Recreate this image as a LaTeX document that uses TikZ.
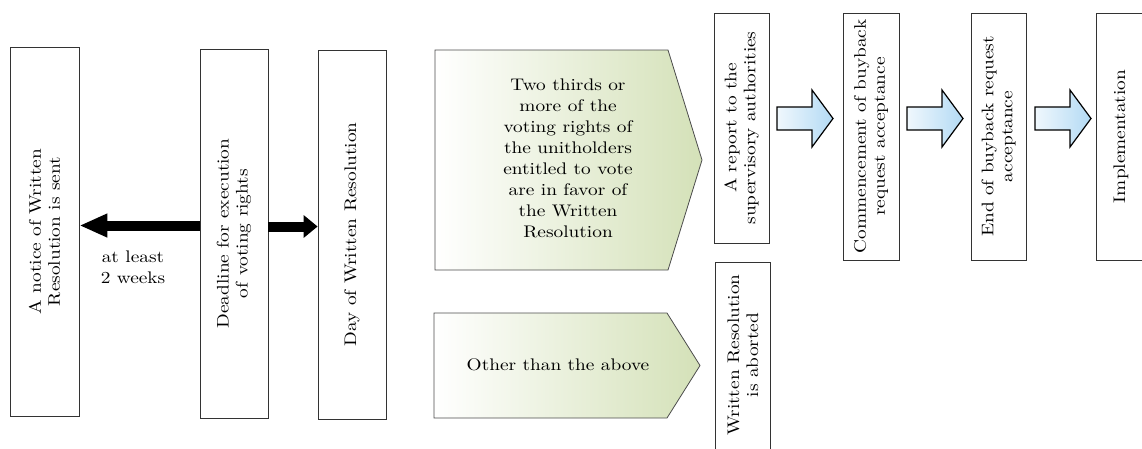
\documentclass[tikz,border=0pt]{standalone}
\usepackage{fontspec}
\setmainfont{lmroman10-regular.otf}[FakeStretch=1.15]
\usetikzlibrary{arrows.meta}

\definecolor{sage}{HTML}{D4E1B8}
\definecolor{paleblue}{HTML}{B3DAF4}

\begin{document}
\begin{tikzpicture}[x=1pt, y=-1pt]
    \tikzstyle{every node}=[font=\fontsize{16.8pt}{19pt}\selectfont, align=center]
    \tikzstyle{stepbox}=[draw=black!80, line width=0.8pt, rotate=90, inner sep=0pt]
    \tikzstyle{bigarrow}=[line width=10pt, -{Triangle[length=28pt, width=22pt]}]
    \tikzstyle{choice}=[draw=black!70, line width=0.8pt, left color=white, right color=sage]
    \tikzstyle{flowarrow}=[draw=black, line width=1.2pt, left color=paleblue!20, right color=paleblue]

    \useasboundingbox (0,0) rectangle (1142,448);

    % schedule of the written resolution
    \node[stepbox, minimum width=369, minimum height=69] (notice) at (44.5,231.5) {A notice of Written\\Resolution is sent};
    \node[stepbox, minimum width=369, minimum height=68] (dl)     at (234,233.5)   {Deadline for execution\\of voting rights};
    \node[stepbox, minimum width=369, minimum height=68] (day)    at (352,234.5)   {Day of Written Resolution};

    \coordinate (dlw) at ([yshift=8pt]dl.north);
    \coordinate (dle) at ([yshift=7pt]dl.south);
    \draw[bigarrow] (dlw) -- (dlw -| notice.south);
    \draw[bigarrow, -{Triangle[length=14pt, width=22pt]}] (dle) -- (dle -| day.north);
    \node[font=\fontsize{16.8pt}{21pt}\selectfont] (gap) at (133,267) {at least\\2 weeks};

    % outcome of the vote
    \path[choice] (435,50) -- (668,50) -- (702,160) -- (668,270) -- (435,270) -- cycle;
    \node[font=\fontsize{16.8pt}{21pt}\selectfont] (yes) at (568,158) {Two thirds or\\more of the\\voting rights of\\the unitholders\\entitled to vote\\are in favor of\\the Written\\Resolution};
    \path[choice] (434,313) -- (667,313) -- (700,365.5) -- (667,418) -- (434,418) -- cycle;
    \node (no) at (558,365) {Other than the above};

    % buyback steps
    \node[stepbox, minimum width=230, minimum height=55] (report) at (741.5,128) {A report to the\\supervisory authorities};
    \node[stepbox, minimum width=210, minimum height=55] (abort)  at (742.5,367) {};
    \node[rotate=90] (abortlbl) at (743,355) {Written Resolution\\is aborted};
    \node[stepbox, minimum width=247, minimum height=56] (start)  at (871,136.5)  {Commencement of buyback\\request acceptance};
    \node[stepbox, minimum width=247, minimum height=55] (end)    at (998.5,136.5) {End of buyback request\\acceptance};
    \node[stepbox, minimum width=247, minimum height=50] (impl)   at (1121,136.5) {Implementation};

    \foreach \x in {777,907,1035}
        \path[flowarrow] (\x,107) -- ++(35,0) -- ++(0,-17) -- ++(21,28.5) -- ++(-21,28.5) -- ++(0,-17) -- ++(-35,0) -- cycle;
\end{tikzpicture}
\end{document}
